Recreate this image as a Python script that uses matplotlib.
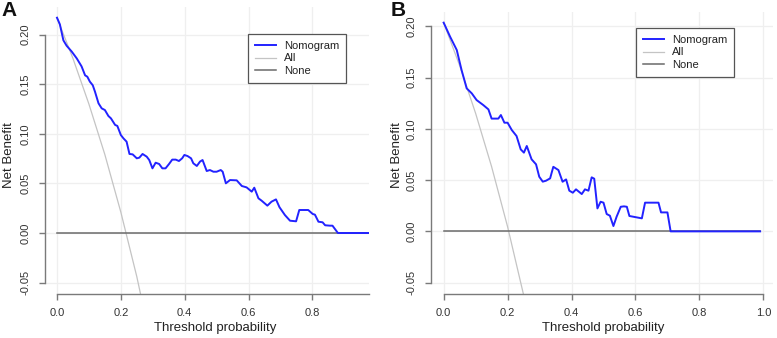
import matplotlib
matplotlib.use("Agg")
import matplotlib.pyplot as plt
from matplotlib.lines import Line2D

plt.rcParams['font.family'] = ['Liberation Sans', 'DejaVu Sans']

# ---------------- data ----------------
# Panel A
a_thr = [0.000, 0.009, 0.020, 0.030, 0.046, 0.062, 0.077, 0.088, 0.095, 0.103,
         0.112, 0.119, 0.130, 0.140, 0.150, 0.161, 0.169, 0.182, 0.189, 0.200,
         0.208, 0.218, 0.227, 0.237, 0.250, 0.258, 0.268, 0.281, 0.289, 0.299,
         0.309, 0.320, 0.330, 0.340, 0.351, 0.361, 0.372, 0.382, 0.392, 0.399,
         0.409, 0.420, 0.427, 0.438, 0.448, 0.456, 0.469, 0.479, 0.490, 0.500,
         0.513, 0.519, 0.529, 0.542, 0.563, 0.579, 0.594, 0.610, 0.618, 0.631,
         0.641, 0.659, 0.672, 0.686, 0.697, 0.714, 0.730, 0.749, 0.759, 0.787,
         0.801, 0.808, 0.819, 0.832, 0.840, 0.855, 0.863, 0.880, 0.980]
a_nomo = [0.2171, 0.2104, 0.1943, 0.1889, 0.1830, 0.1760, 0.1680, 0.1590, 0.1576, 0.1526,
          0.1490, 0.1425, 0.1308, 0.1257, 0.1240, 0.1180, 0.1156, 0.1090, 0.1080, 0.0988,
          0.0955, 0.0921, 0.0797, 0.0793, 0.0753, 0.0760, 0.0797, 0.0770, 0.0736, 0.0652,
          0.0709, 0.0696, 0.0652, 0.0652, 0.0696, 0.0740, 0.0740, 0.0726, 0.0753, 0.0787,
          0.0776, 0.0753, 0.0703, 0.0676, 0.0720, 0.0736, 0.0625, 0.0635, 0.0618, 0.0618,
          0.0635, 0.0618, 0.0501, 0.0534, 0.0531, 0.0474, 0.0460, 0.0417, 0.0457, 0.0350,
          0.0326, 0.0276, 0.0316, 0.0339, 0.0260, 0.0181, 0.0124, 0.0118, 0.0232, 0.0232,
          0.0192, 0.0185, 0.0114, 0.0108, 0.0078, 0.0074, 0.0074, 0.0000, 0.0000]
a_all_thr = [0.00, 0.05, 0.10, 0.15, 0.20, 0.25, 0.30]
a_all = [0.217, 0.176, 0.130, 0.079, 0.021, -0.044, -0.119]
a_none_thr = [0.00, 0.98]
a_none = [0.0, 0.0]

# Panel B
b_thr = [0.000, 0.020, 0.041, 0.056, 0.072, 0.088, 0.103, 0.124, 0.140, 0.150,
         0.171, 0.179, 0.190, 0.200, 0.213, 0.228, 0.241, 0.251, 0.260, 0.275,
         0.289, 0.299, 0.310, 0.320, 0.333, 0.343, 0.359, 0.372, 0.383, 0.393,
         0.404, 0.414, 0.432, 0.442, 0.453, 0.463, 0.471, 0.481, 0.491, 0.500,
         0.510, 0.520, 0.531, 0.541, 0.554, 0.564, 0.573, 0.581, 0.620, 0.630,
         0.672, 0.680, 0.700, 0.710, 0.990]
b_nomo = [0.2036, 0.1900, 0.1769, 0.1574, 0.1395, 0.1346, 0.1281, 0.1232, 0.1190, 0.1100,
          0.1100, 0.1135, 0.1060, 0.1060, 0.0989, 0.0930, 0.0800, 0.0768, 0.0833, 0.0703,
          0.0654, 0.0533, 0.0485, 0.0494, 0.0517, 0.0630, 0.0598, 0.0484, 0.0507, 0.0397,
          0.0377, 0.0410, 0.0364, 0.0410, 0.0397, 0.0527, 0.0514, 0.0224, 0.0289, 0.0280,
          0.0169, 0.0153, 0.0052, 0.0143, 0.0240, 0.0244, 0.0240, 0.0150, 0.0127, 0.0280,
          0.0280, 0.0185, 0.0185, 0.0000, 0.0000]
b_all_thr = [0.00, 0.05, 0.10, 0.15, 0.20, 0.25, 0.30]
b_all = [0.2036, 0.1617, 0.1151, 0.0631, 0.0045, -0.0619, -0.1377]
b_none_thr = [0.00, 0.99]
b_none = [0.0, 0.0]

y_ticks = [-0.05, 0.00, 0.05, 0.10, 0.15, 0.20]
y_ticklabels = ["-0.05", "0.00", "0.05", "0.10", "0.15", "0.20"]
a_xticks = [0.0, 0.2, 0.4, 0.6, 0.8]
a_xticklabels = ["0.0", "0.2", "0.4", "0.6", "0.8"]
b_xticks = [0.0, 0.2, 0.4, 0.6, 0.8, 1.0]
b_xticklabels = ["0.0", "0.2", "0.4", "0.6", "0.8", "1.0"]
series_names = ["Nomogram", "All", "None"]

# ---------------- styling ----------------
W, H = 777, 338
fig = plt.figure(figsize=(W / 100, H / 100), dpi=100)

C_NOMO = "#2222ff"
C_ALL = "#c4c4c4"
C_NONE = "#6a6a6a"
C_AX = "#7a7a7a"
C_GRID = "#efefef"


def px_axes(left, right, top, bottom):
    return [left / W, 1 - bottom / H, (right - left) / W, (bottom - top) / H]


def setup(ax, xlim, ylim, xticks, xticklabels, xbound):
    ax.set_xlim(*xlim)
    ax.set_ylim(*ylim)
    for s in ["top", "right"]:
        ax.spines[s].set_visible(False)
    for s in ["left", "bottom"]:
        ax.spines[s].set_color(C_AX)
        ax.spines[s].set_linewidth(1.0)
    ax.spines["left"].set_bounds(-0.05, 0.20)
    ax.spines["bottom"].set_bounds(0.0, xbound)
    ax.set_xticks(xticks)
    ax.set_xticklabels(xticklabels)
    ax.set_yticks(y_ticks)
    ax.set_yticklabels(y_ticklabels, rotation=90, va="center")
    ax.tick_params(axis="both", direction="out", length=4, width=1.0,
                   color=C_AX, labelsize=8, labelcolor="#333333", pad=6.5)
    for t in xticks:
        ax.axvline(t, color=C_GRID, lw=0.9, zorder=0)
    for t in y_ticks:
        ax.axhline(t, color=C_GRID, lw=0.9, zorder=0)


# Panel A
axA = fig.add_axes(px_axes(45, 369, 6.8, 293.7))
setup(axA, (-0.0376, 0.9774), (-0.0612, 0.2281), a_xticks, a_xticklabels, 0.9774)
axA.plot(a_all_thr, a_all, color=C_ALL, lw=0.9, zorder=2)
axA.plot(a_none_thr, a_none, color=C_NONE, lw=1.1, zorder=3)
axA.plot(a_thr, a_nomo, color=C_NOMO, lw=1.4, zorder=4)

# Panel B
axB = fig.add_axes(px_axes(431.0, 772.8, 12.3, 293.7))
setup(axB, (-0.0396, 1.0296), (-0.0608, 0.2137), b_xticks, b_xticklabels, 1.0)
axB.plot(b_all_thr, b_all, color=C_ALL, lw=0.9, zorder=2)
axB.plot(b_none_thr, b_none, color=C_NONE, lw=1.1, zorder=3)
axB.plot(b_thr, b_nomo, color=C_NOMO, lw=1.4, zorder=4)

handles = [Line2D([], [], color=C_NOMO, lw=1.4),
           Line2D([], [], color=C_ALL, lw=0.9),
           Line2D([], [], color=C_NONE, lw=1.1)]

for (lx, ly) in [(248, 34), (636, 28)]:
    leg = fig.legend(handles, series_names, loc="upper left",
                     bbox_to_anchor=(lx / W, 1 - ly / H),
                     fontsize=8, frameon=True, fancybox=False,
                     edgecolor="#555555", framealpha=1,
                     handlelength=1.9, handletextpad=0.75,
                     borderpad=0.6, labelspacing=0.25, borderaxespad=0)
    leg.get_frame().set_linewidth(0.9)
    for txt in leg.get_texts():
        txt.set_color("#222222")

# axis titles
for (x, y) in [(215.5, 327.5), (603, 327.5)]:
    fig.text(x / W, 1 - y / H, "Threshold probability", ha="center", va="center",
             fontsize=9.5, color="#222222")
for (x, y) in [(9, 155.5), (396.7, 155.5)]:
    fig.text(x / W, 1 - y / H, "Net Benefit", ha="center", va="center",
             rotation=90, fontsize=9.5, color="#222222")

# panel letters
fig.text(1.5 / W, 1 - 1 / H, "A", ha="left", va="top", fontsize=15,
         fontweight="bold", color="#111111")
fig.text(391 / W, 1 - 1 / H, "B", ha="left", va="top", fontsize=15,
         fontweight="bold", color="#111111")

fig.savefig("out.png", dpi=100)
